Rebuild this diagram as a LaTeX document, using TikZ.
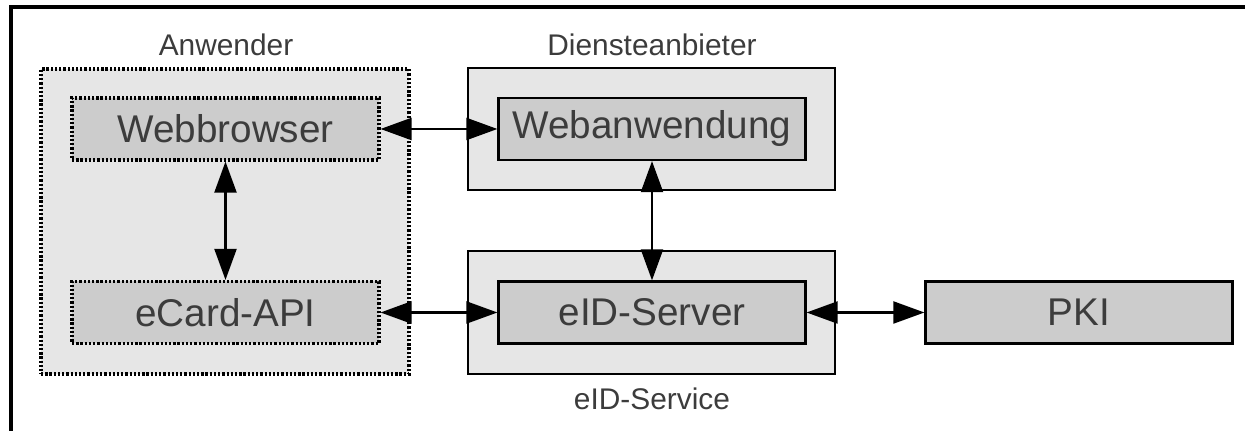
\documentclass[tikz,border=0pt]{standalone}
\usepackage{fontspec}
\setmainfont{Liberation Sans}
\usetikzlibrary{arrows.meta,positioning}

\definecolor{cpouter}{HTML}{E6E6E6}
\definecolor{cpinner}{HTML}{CCCCCC}
\definecolor{cptext}{HTML}{3C3C3C}

\tikzset{
  outerbox/.style={draw,fill=cpouter,line width=1.4pt,minimum width=7.34cm,inner sep=0pt},
  innerbox/.style={draw,fill=cpinner,line width=1.3pt,minimum width=6.14cm,minimum height=1.24cm,
    inner sep=0pt,text=cptext,font=\fontsize{22}{26}\selectfont},
  dotbox/.style={line width=1.8pt,dash pattern=on 1.3pt off 1.1pt},
  grouplabel/.style={text=cptext,font=\fontsize{17}{20}\selectfont},
  link/.style={{Triangle[length=0.62cm,width=0.44cm]}-{Triangle[length=0.62cm,width=0.44cm]},line width=1.2pt},
}

\begin{document}
\begin{tikzpicture}[x=0.02cm,y=-0.02cm]
  \useasboundingbox (0,0) rectangle (1245,431);

  % frame
  \draw[line width=1.8pt] (11,431) -- (11,7) -- (1245,7);

  % groups
  \node[outerbox,dotbox,minimum height=6.1cm,minimum width=7.36cm] (anw) at (225,221.5) {};
  \node[outerbox,minimum height=2.44cm] (dienst) at (651.5,129) {};
  \node[outerbox,minimum height=2.46cm] (service) at (651.5,312.5) {};

  \node[grouplabel] (anwlabel) at (226,45) {Anwender};
  \node[grouplabel] (dienstlabel) at (652,45) {Diensteanbieter};
  \node[grouplabel] (servicelabel) at (652,399) {eID-Service};

  % components
  \node[innerbox,dotbox] (browser) at (225.5,129) {Webbrowser};
  \node[innerbox,dotbox] (ecard) at (225.5,312.5) {eCard-API};
  \node[innerbox] (webapp) at (652,129) {Webanwendung};
  \node[innerbox] (server) at (652,312.5) {eID-Server};
  \node[innerbox] (pki) at (1079,312.5) {PKI};

  % connections
  \draw[link] (browser) -- (webapp);
  \draw[link] (browser) -- (ecard);
  \draw[link] (webapp) -- (server);
  \draw[link] (ecard) -- (server);
  \draw[link] (server) -- (pki);

\end{tikzpicture}
\end{document}
